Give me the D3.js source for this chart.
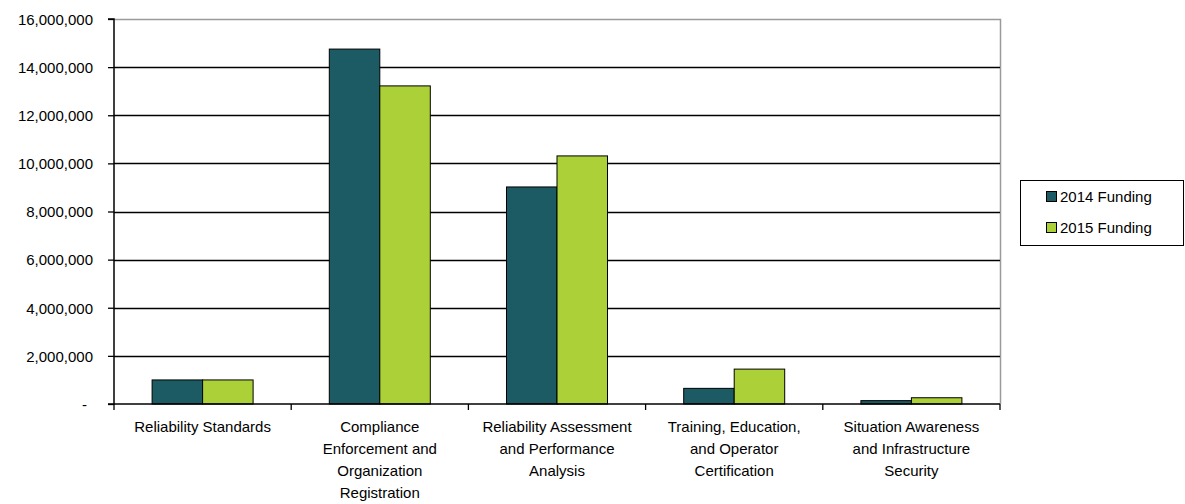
<!DOCTYPE html>
<meta charset="utf-8">
<head>
	<title>Funding by program area</title>
</head>
<style>
body { margin: 0; background: #fff; }
svg { display: block; font-family: "Liberation Sans", Arial, sans-serif; }
.ytick text { font-size: 15px; fill: #000; }
.xlab { font-size: 15px; fill: #000; text-anchor: middle; }
.legend text { font-size: 15px; fill: #000; }
</style>
<body>
<svg id="chart" width="1185" height="504"></svg>

<script src="https://cdnjs.cloudflare.com/ajax/libs/d3/7.8.5/d3.min.js"></script>
<script>

// data
var categories = [
	['Reliability Standards'],
	['Compliance', 'Enforcement and', 'Organization', 'Registration'],
	['Reliability Assessment', 'and Performance', 'Analysis'],
	['Training, Education,', 'and Operator', 'Certification'],
	['Situation Awareness', 'and Infrastructure', 'Security']
];
var funding2014 = [1000000, 14750000, 9020000, 650000, 140000];
var funding2015 = [1000000, 13220000, 10310000, 1450000, 260000];
var seriesNames = ['2014 Funding', '2015 Funding'];
var yTicks = [0, 2000000, 4000000, 6000000, 8000000, 10000000, 12000000, 14000000, 16000000];

var colors = ['#1c5b63', '#acd037'];

// plot area edges (window.top is taken, so own names)
var pLeft = 114, pRight = 1000, pTop = 19, pBottom = 404;
var svg = d3.select('#chart');

var y = d3.scaleLinear().domain([0, 16000000]).range([pBottom, pTop]);
var x0 = d3.scaleBand().domain(d3.range(categories.length)).range([pLeft, pRight]).paddingInner(0.43).paddingOuter(0.215);
var x1 = d3.scaleBand().domain([0, 1]).range([0, x0.bandwidth()]);

// plot area border (grey top and right)
svg.append('path')
	.attr('d', 'M' + pLeft + ',' + (pTop + 0.5) + 'H' + (pRight + 0.5) + 'V' + pBottom)
	.attr('fill', 'none').attr('stroke', '#9a9a9a').attr('stroke-width', 1.5);

// grid lines
svg.append('g').selectAll('line')
	.data(yTicks.filter(function(d){ return d > 0 && d < 16000000; }))
	.enter().append('line')
	.attr('x1', pLeft).attr('x2', pRight)
	.attr('y1', function(d){ return Math.round(y(d)) + 0.5; })
	.attr('y2', function(d){ return Math.round(y(d)) + 0.5; })
	.attr('stroke', '#000').attr('stroke-width', 1.3);

// bars
var series = [funding2014, funding2015];
svg.append('g').selectAll('g')
	.data(series).enter().append('g')
	.attr('fill', function(d, i){ return colors[i]; })
	.each(function(vals, si) {
		d3.select(this).selectAll('rect')
			.data(vals).enter().append('rect')
			.attr('x', function(d, i){ return x0(i) + x1(si); })
			.attr('width', x1.bandwidth())
			.attr('y', function(d){ return y(d); })
			.attr('height', function(d){ return pBottom - y(d); })
			.attr('stroke', '#000').attr('stroke-width', 1);
	});

// y axis
var yAxis = d3.axisLeft(y).tickValues(yTicks).tickSize(6)
	.tickFormat(function(d){ return d === 0 ? '-' : d3.format(',')(d); });
var ya = svg.append('g').attr('class', 'ytick').attr('transform', 'translate(' + pLeft + ',0)').call(yAxis);
ya.select('.domain').attr('stroke', '#000').attr('stroke-width', 1.5).attr('d', 'M-6,' + pTop + 'H0V' + pBottom + 'H-6');
ya.selectAll('.tick line').attr('stroke', '#000').attr('stroke-width', 1.3);
ya.selectAll('.tick text').attr('x', -21).attr('dy', '0.35em');
ya.selectAll('.tick').filter(function(d){ return d === 0; }).select('text').attr('x', -27);

// x axis
var xTicks = d3.range(categories.length + 1);
var xt = d3.scaleLinear().domain([0, categories.length]).range([pLeft, pRight]);
svg.append('line').attr('x1', pLeft).attr('x2', pRight).attr('y1', pBottom).attr('y2', pBottom)
	.attr('stroke', '#000').attr('stroke-width', 1.5);
svg.append('g').selectAll('line').data(xTicks).enter().append('line')
	.attr('x1', function(d){ return xt(d); }).attr('x2', function(d){ return xt(d); })
	.attr('y1', pBottom).attr('y2', pBottom + 6)
	.attr('stroke', '#000').attr('stroke-width', 1.3);

svg.append('g').selectAll('text').data(categories).enter().append('text')
	.attr('class', 'xlab')
	.attr('x', function(d, i){ return x0(i) + x0.bandwidth() / 2; })
	.attr('y', 432)
	.each(function(lines) {
		var t = d3.select(this);
		lines.forEach(function(l, k) {
			t.append('tspan').attr('x', t.attr('x')).attr('y', 432 + k * 22).text(l);
		});
	});

// legend
var lg = svg.append('g').attr('class', 'legend');
lg.append('rect').attr('x', 1020.5).attr('y', 180.5).attr('width', 163).attr('height', 65)
	.attr('fill', '#fff').attr('stroke', '#000').attr('stroke-width', 1);
var items = lg.selectAll('g.item').data(seriesNames).enter().append('g').attr('class', 'item')
	.attr('transform', function(d, i){ return 'translate(1046,' + (197 + i * 31) + ')'; });
items.append('rect').attr('x', 0.5).attr('y', -5.5).attr('width', 10).attr('height', 10)
	.attr('fill', function(d, i){ return colors[i]; }).attr('stroke', '#000');
items.append('text').attr('x', 14).attr('dy', '0.35em').text(function(d){ return d; });

</script>
</body>
</html>
